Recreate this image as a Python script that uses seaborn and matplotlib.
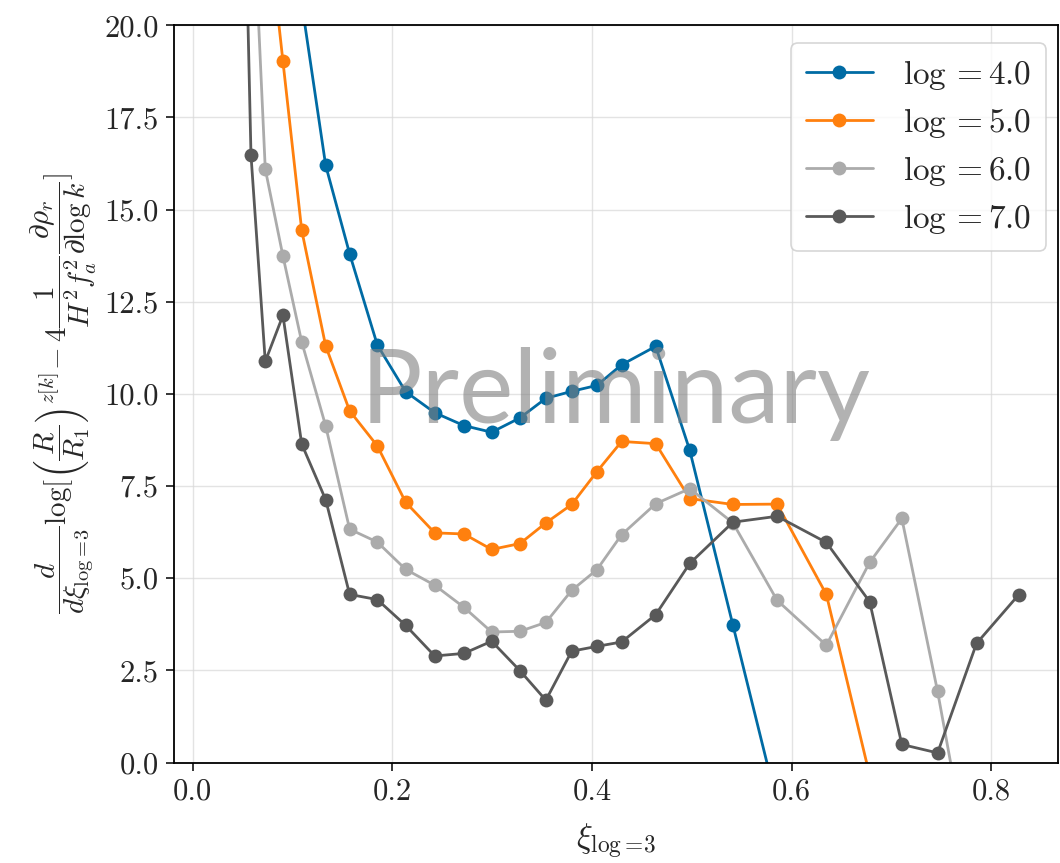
import numpy as np
import pandas as pd
import matplotlib
matplotlib.use("Agg")
import matplotlib.pyplot as plt
import seaborn as sns

# ---- data ----
xi = [0.022, 0.042, 0.0584, 0.0727, 0.0904, 0.1092, 0.1332, 0.1572, 0.1849,
      0.2133, 0.2424, 0.2717, 0.2994, 0.3278, 0.3537, 0.3796, 0.4048, 0.4296,
      0.4637, 0.4978, 0.5411, 0.5853, 0.6346, 0.678, 0.7102, 0.746, 0.785,
      0.8272]

y_log4 = [90.0, 60.0, 40.0, 32.0, 25.5, 20.6, 16.20, 13.80, 11.33, 10.06, 9.49,
          9.14, 8.96, 9.35, 9.88, 10.07, 10.23, 10.79, 11.29, 8.47, 3.72, -1.12,
          None, None, None, None, None, None]
y_log5 = [75.0, 48.0, 32.0, 23.4, 19.02, 14.44, 11.30, 9.54, 8.59, 7.06, 6.23,
          6.20, 5.78, 5.94, 6.50, 7.00, 7.89, 8.71, 8.65, 7.16, 7.00, 7.01, 4.56,
          -0.35, None, None, None, None]
y_log6 = [65.0, 40.0, 24.6, 16.10, 13.74, 11.41, 9.13, 6.33, 5.98, 5.24, 4.81,
          4.21, 3.54, 3.56, 3.80, 4.67, 5.23, 6.18, 7.02, 7.43, 6.50, 4.40, 3.18,
          5.43, 6.62, 1.93, -3.85, None]
y_log7 = [60.0, 36.0, 16.48, 10.88, 12.13, 8.64, 7.13, 4.56, 4.42, 3.72, 2.89,
          2.96, 3.29, 2.49, 1.69, 3.02, 3.15, 3.27, 4.01, 5.40, 6.52, 6.68, 5.97,
          4.36, 0.49, 0.26, 3.23, 4.55]

series_labels = [r"$\log = 4.0$", r"$\log = 5.0$", r"$\log = 6.0$", r"$\log = 7.0$"]
series_values = [y_log4, y_log5, y_log6, y_log7]
colors = ["#006BA4", "#FF800E", "#ABABAB", "#595959"]

x_ticks = [0.0, 0.2, 0.4, 0.6, 0.8]
y_ticks = [0.0, 2.5, 5.0, 7.5, 10.0, 12.5, 15.0, 17.5, 20.0]

rows = []
for lab, vals in zip(series_labels, series_values):
    for x, v in zip(xi, vals):
        if v is not None:
            rows.append({"xi": x, "val": v, "series": lab})
df = pd.DataFrame(rows)

# ---- style ----
sns.set_style("ticks")
plt.rcParams["font.family"] = "serif"
plt.rcParams["font.serif"] = ["cmr10", "DejaVu Serif"]
plt.rcParams["mathtext.fontset"] = "cm"
plt.rcParams["axes.unicode_minus"] = False

fig = plt.figure(figsize=(10.6, 8.63), dpi=100)
ax = fig.add_axes([174 / 1060, 1 - 762.5 / 863, (1058 - 174) / 1060, (762.5 - 25.3) / 863])

sns.lineplot(data=df, x="xi", y="val", hue="series", hue_order=series_labels,
             palette=colors, marker="o", markersize=10, markeredgewidth=0,
             linewidth=2.0, ax=ax, sort=False, estimator=None)

ax.set_xlim(-0.0187, 0.8666)
ax.set_ylim(0, 20)
ax.set_xticks(x_ticks)
ax.set_yticks(y_ticks)
ax.set_xticklabels([f"{t:.1f}" for t in x_ticks])
ax.set_yticklabels([f"{t:.1f}" for t in y_ticks])
ax.tick_params(labelsize=22, direction="out", length=6, width=1.1, color="black", pad=5)
for s in ax.spines.values():
    s.set_color("black")
    s.set_linewidth(1.3)
ax.grid(True, color="#d8d8d8", alpha=0.7, linewidth=1)

ax.set_xlabel(r"$\xi_{\log\!=\!3}$", fontsize=24, labelpad=12)
ax.set_ylabel(r"$\dfrac{d}{d\xi_{\log\!=\!3}}\log[\left(\dfrac{R}{R_1}\right)^{z[k]}\!-4\dfrac{1}{H^2f_a^2}\dfrac{\partial\rho_r}{\partial\log k}]$",
              fontsize=21, labelpad=4)

ax.text(0.5, 0.5, "Preliminary", transform=ax.transAxes, ha="center", va="center",
        fontsize=74, color="gray", alpha=0.6, family="Lato", zorder=5)

leg = ax.legend(loc="upper right", fontsize=24, frameon=True, fancybox=True,
                handlelength=2.0, borderpad=0.45, labelspacing=0.42,
                handletextpad=0.9, borderaxespad=0.0,
                bbox_to_anchor=(0.9865, 0.976))
leg.get_frame().set_edgecolor("#cccccc")
leg.get_frame().set_linewidth(1.2)

fig.savefig("out.png", dpi=100)
